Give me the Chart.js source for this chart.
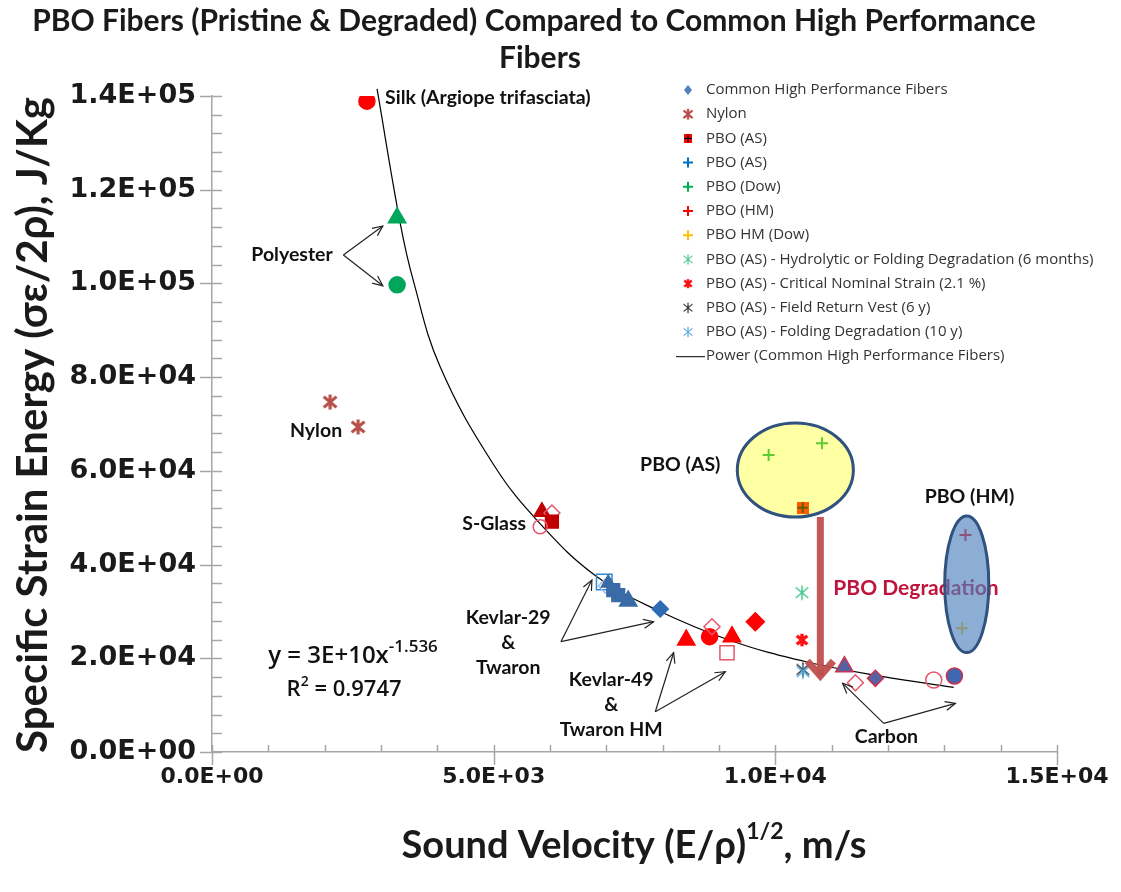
<!DOCTYPE html>
<html>
<head>
<meta charset="utf-8">
<script src="https://cdn.jsdelivr.net/npm/chart.js@4.4.0/dist/chart.umd.min.js"></script>
<style>
  html, body { margin: 0; background: #fff; }
  #wrap { width: 1121px; height: 892px; position: relative; }
</style>
</head>
<body>
<div id="wrap"><canvas id="chart"></canvas></div>
<script>
// === values ===

// Common High Performance Fibers (silk, polyester, S-glass, Kevlar/Twaron, carbon)
const commonX = [2750, 3286, 3286, 5856, 6034, 6034, 5826, 6963, 6980, 7034, 7123, 7211, 7389, 7957,
                 8419, 8833, 8875, 9230, 9142, 9645, 11226, 11421, 11776, 12812, 13179];
const commonY = [138900, 114000, 99700, 51270, 51000, 49150, 48080, 36280, 35420, 36060, 34570, 33500, 32220, 30520,
                 23900, 24610, 26740, 24610, 21190, 27810, 18210, 14790, 15720, 15360, 16220];

const nylonX = [2096, 2593];
const nylonY = [74690, 69360];

const pboAsX = [10485];
const pboAsY = [52140];
const pboAsBlueX = [10485];   // hidden under the boxed PBO (AS) marker
const pboAsBlueY = [52140];
const pboDowX = [9881, 10829];
const pboDowY = [63380, 65880];
const pboHmX = [13375];
const pboHmY = [46310];
const pboHmDowX = [13316];
const pboHmDowY = [26400];

const hydroX = [10474];
const hydroY = [34000];
const criticalX = [10474];
const criticalY = [23900];
const vestX = [10490];
const vestY = [17600];
const foldX = [10492];
const foldY = [17140];

// power trendline
const trendX = [2930, 3339, 3576, 4050, 5000, 5826, 6833, 7899, 9201, 10563, 11865, 13167];
const trendY = [141500, 113000, 100500, 82200, 61300, 48700, 37400, 30300, 23800, 19200, 16200, 13800];

const xMin = 0, xMax = 15000, xStep = 5000;
const yMin = 0, yMax = 140000, yStep = 20000;

const titleLines = ["PBO Fibers (Pristine & Degraded) Compared to Common High Performance", "Fibers"];

// === marker styling ===

const red = "#ff0000";
const dred = "#c00000";
const ored = "#e5566c";
const blu = "#3b6ba6";
const lblu = "#2f8ad0";
const carbF = "#5663a2";
const carbB = "#d0304e";
const green = "#00a65a";
const none = "rgba(255,255,255,0)";

// [pointStyle, fill, stroke, radius] for each common-fiber point
const commonStyle = [
  ["circle", red, red, 8],
  ["triangle", green, green, 10],
  ["circle", green, green, 8],
  ["triangle", dred, dred, 9],
  ["rectRot", none, ored, 8],
  ["rect", dred, dred, 9],
  ["circle", none, ored, 7],
  ["rect", none, lblu, 11],
  ["rectRot", none, "#9cc2e6", 7],
  ["triangle", blu, blu, 8],
  ["rect", blu, blu, 9],
  ["rect", blu, blu, 9],
  ["triangle", blu, blu, 10],
  ["rectRot", "#2e6db4", "#2e6db4", 8],
  ["triangle", red, red, 10],
  ["circle", red, red, 8],
  ["rectRot", none, ored, 8],
  ["triangle", red, red, 10],
  ["rect", none, ored, 10],
  ["rectRot", red, red, 9],
  ["triangle", carbF, carbB, 10],
  ["rectRot", none, ored, 8],
  ["rectRot", carbF, carbB, 8],
  ["circle", none, ored, 8],
  ["circle", "#4068b0", carbB, 8],
];

function starImg(color, size, lw) {
  const c = document.createElement("canvas");
  c.width = c.height = size;
  const g = c.getContext("2d");
  const m = lw / 2 + 1;
  g.strokeStyle = color;
  g.lineWidth = lw;
  g.lineCap = "butt";
  g.beginPath();
  g.moveTo(size / 2, m - 1); g.lineTo(size / 2, size - m + 1);
  g.moveTo(m, m + 1); g.lineTo(size - m, size - m - 1);
  g.moveTo(size - m, m + 1); g.lineTo(m, size - m - 1);
  g.stroke();
  return c;
}

function plusBoxImg(fill, line, size) {
  const c = document.createElement("canvas");
  c.width = c.height = size;
  const g = c.getContext("2d");
  g.fillStyle = fill;
  g.fillRect(0, 0, size, size);
  g.strokeStyle = line;
  g.lineWidth = 2;
  g.beginPath();
  g.moveTo(size / 2, 1); g.lineTo(size / 2, size - 1);
  g.moveTo(1, size / 2); g.lineTo(size - 1, size / 2);
  g.stroke();
  return c;
}

const imgNylon = starImg("#b8504a", 18, 3.2);
const imgHydro = starImg("#3cc68a", 16, 1.4);
const imgCritical = starImg("#ff1010", 16, 3.4);
const imgVest = starImg("#202020", 16, 1.4);
const imgFold = starImg("#4aa6dc", 16, 1.4);
const imgPboAs = plusBoxImg(red, "#000", 12);

// === helpers ===

function sci(v) {
  if (v === 0) return "0.0E+00";
  const e = Math.floor(Math.log10(v) + 1e-9);
  return (v / Math.pow(10, e)).toFixed(1) + "E+" + String(e).padStart(2, "0");
}

function pts(xs, ys) {
  return xs.map((x, i) => ({ x, y: ys[i] }));
}

function plusSet(label, xs, ys, color) {
  return {
    label, data: pts(xs, ys), pointStyle: "cross", pointRadius: 6,
    borderColor: color, backgroundColor: color, pointBorderWidth: 2, showLine: false,
  };
}

function imgSet(label, xs, ys, img) {
  return { label, data: pts(xs, ys), pointStyle: img, pointRadius: 7, showLine: false };
}

// === annotations (placed in data units) ===

const notes = [
  ["Silk (Argiope trifasciata)", 3073, 139560, "left"],
  ["Polyester", 1421, 106060, "center"],
  ["Nylon", 1847, 68500, "center"],
  ["S-Glass", 5009, 48660, "center"],
  ["Kevlar-29", 5258, 28600, "center"],
  ["&", 5258, 23260, "center"],
  ["Twaron", 5258, 17930, "center"],
  ["Kevlar-49", 7087, 15370, "center"],
  ["&", 7087, 10030, "center"],
  ["Twaron HM", 7087, 4690, "center"],
  ["Carbon", 11972, 3200, "center"],
  ["PBO (AS)", 8313, 61250, "center"],
  ["PBO (HM)", 13446, 54420, "center"],
];

// [vertex, tip, tip]
const pointers = [
  [[2332, 106060], [3032, 112250], [3032, 99510]],
  [[6194, 23540], [6744, 36710], [7838, 27810]],
  [[7869, 8600], [8194, 21190], [9112, 17140]],
  [[11924, 6120], [11195, 14660], [13197, 10390]],
];

const ellipses = [
  { cx: 10355, cy: 60180, rx: 1030, ry: 10030, fill: "rgba(255,255,0,0.36)" },
  { cx: 13398, cy: 35790, rx: 391, ry: 14580, fill: "rgba(79,129,189,0.65)" },
];

const degradeArrow = { x: 10799, y0: 50150, y1: 15360 };

const legendRows = [
  ["Common High Performance Fibers", "diamond", "#4f81bd"],
  ["Nylon", imgNylon],
  ["PBO (AS)", imgPboAs],
  ["PBO (AS)", "cross", "#0070c0"],
  ["PBO (Dow)", "cross", "#00b050"],
  ["PBO (HM)", "cross", "#ff0000"],
  ["PBO HM (Dow)", "cross", "#ffc000"],
  ["PBO (AS) - Hydrolytic or Folding Degradation (6 months)", imgHydro],
  ["PBO (AS) - Critical Nominal Strain (2.1 %)", imgCritical],
  ["PBO (AS) - Field Return Vest (6 y)", imgVest],
  ["PBO (AS) - Folding Degradation (10 y)", imgFold],
  ["Power (Common High Performance Fibers)", "line", "#000"],
];

function arrowHead(ctx, fx, fy, tx, ty, len, spread) {
  const a = Math.atan2(ty - fy, tx - fx);
  ctx.beginPath();
  ctx.moveTo(tx - len * Math.cos(a - spread), ty - len * Math.sin(a - spread));
  ctx.lineTo(tx, ty);
  ctx.lineTo(tx - len * Math.cos(a + spread), ty - len * Math.sin(a + spread));
  ctx.stroke();
}

function richText(ctx, parts, x, y, align) {
  // parts: [text, font, raise]
  let w = 0;
  parts.forEach(p => { ctx.font = p[1]; w += ctx.measureText(p[0]).width; });
  let cx = align === "center" ? x - w / 2 : x;
  ctx.textAlign = "left";
  parts.forEach(p => {
    ctx.font = p[1];
    ctx.fillText(p[0], cx, y - (p[2] || 0));
    cx += ctx.measureText(p[0]).width;
  });
}

const deco = {
  id: "deco",
  afterDatasetsDraw(chart) {
    const { ctx, chartArea: area, scales: { x, y } } = chart;
    const px = v => x.getPixelForValue(v);
    const py = v => y.getPixelForValue(v);
    ctx.save();

    // degradation arrow
    const ax = px(degradeArrow.x), ay0 = py(degradeArrow.y0), ay1 = py(degradeArrow.y1);
    ctx.strokeStyle = "rgba(192,80,77,0.95)";
    ctx.lineWidth = 7;
    ctx.lineJoin = "miter";
    ctx.beginPath();
    ctx.moveTo(ax, ay0);
    ctx.lineTo(ax, ay1 - 4);
    ctx.stroke();
    ctx.beginPath();
    ctx.moveTo(ax - 13, ay1 - 19);
    ctx.lineTo(ax, ay1 - 4);
    ctx.lineTo(ax + 13, ay1 - 19);
    ctx.stroke();

    ctx.fillStyle = "#c0143c";
    ctx.font = "700 21px Lato";
    ctx.textAlign = "left";
    ctx.textBaseline = "middle";
    ctx.fillText("PBO Degradation", px(11030), py(35000));

    // ellipses
    ellipses.forEach(e => {
      const cx = px(e.cx), cy = py(e.cy);
      const rx = Math.abs(px(e.cx + e.rx) - cx), ry = Math.abs(py(e.cy + e.ry) - cy);
      ctx.beginPath();
      ctx.ellipse(cx, cy, rx, ry, 0, 0, Math.PI * 2);
      ctx.fillStyle = e.fill;
      ctx.fill();
      ctx.lineWidth = 3;
      ctx.strokeStyle = "#30527e";
      ctx.stroke();
    });

    // labels
    ctx.fillStyle = "#111";
    ctx.font = "700 19.5px Lato";
    notes.forEach(n => {
      ctx.textAlign = n[3];
      ctx.fillText(n[0], px(n[1]), py(n[2]));
    });

    // pointer arrows
    ctx.strokeStyle = "#222";
    ctx.lineWidth = 1.2;
    ctx.lineJoin = "miter";
    pointers.forEach(p => {
      const vx = px(p[0][0]), vy = py(p[0][1]);
      [p[1], p[2]].forEach(t => {
        const tx = px(t[0]), ty = py(t[1]);
        ctx.beginPath();
        ctx.moveTo(vx, vy);
        ctx.lineTo(tx, ty);
        ctx.stroke();
        arrowHead(ctx, vx, vy, tx, ty, 11, 0.42);
      });
    });

    // trendline equation
    ctx.fillStyle = "#111";
    ctx.textBaseline = "middle";
    richText(ctx, [["y = 3E+10x", "600 24px 'Open Sans'"], ["-1.536", "600 17px 'Open Sans'", 9]], px(2504), py(20490), "center");
    richText(ctx, [["R", "600 22px 'Open Sans'"], ["2", "600 14px 'Open Sans'", 8], [" = 0.9747", "600 22px 'Open Sans'"]], px(2345), py(13230), "center");

    // axis tick marks (major cross the axis, minor inside)
    ctx.strokeStyle = "#a6a6a6";
    ctx.lineWidth = 1.5;
    ctx.beginPath();
    for (let v = yMin; v <= yMax + 1; v += yStep / 5) {
      const yy = Math.round(py(v)) + 0.5;
      const major = Math.abs(v % yStep) < 1;
      ctx.moveTo(area.left - (major ? 12 : 0), yy);
      ctx.lineTo(area.left + 10, yy);
    }
    for (let v = xMin; v <= xMax + 1; v += xStep / 5) {
      const xx = Math.round(px(v)) + 0.5;
      const major = Math.abs(v % xStep) < 1;
      ctx.moveTo(xx, area.bottom - 7);
      ctx.lineTo(xx, area.bottom + (major ? 13 : 0));
    }
    ctx.stroke();
    ctx.restore();
  },
  afterDraw(chart) {
    const { ctx } = chart;
    ctx.save();

    // title
    ctx.fillStyle = "#1a1a1a";
    ctx.textAlign = "center";
    ctx.textBaseline = "middle";
    ctx.font = "700 30px Lato";
    ctx.fillText(titleLines[0], 534, 21);
    ctx.fillText(titleLines[1], 540, 58);

    // y axis title
    ctx.save();
    ctx.translate(33, 425);
    ctx.rotate(-Math.PI / 2);
    ctx.font = "700 42px Lato";
    ctx.fillText("Specific Strain Energy (\u03c3\u03b5/2\u03c1), J/Kg", 0, 0);
    ctx.restore();

    // x axis title with superscript
    richText(ctx, [["Sound Velocity (E/\u03c1)", "700 38px Lato"], ["1/2", "700 23px Lato", 14], [", m/s", "700 38px Lato"]], 634, 846, "center");

    // legend
    const lx = 688, tx = 706, ly0 = 90, dy = 24.2;
    ctx.textAlign = "left";
    ctx.font = "400 15px 'Open Sans'";
    legendRows.forEach((r, i) => {
      const yy = ly0 + i * dy;
      const m = r[1];
      if (m instanceof HTMLCanvasElement) {
        const s = 0.72;
        ctx.drawImage(m, lx - m.width * s / 2, yy - m.height * s / 2, m.width * s, m.height * s);
      } else if (m === "diamond") {
        ctx.fillStyle = r[2];
        ctx.beginPath();
        ctx.moveTo(lx, yy - 5); ctx.lineTo(lx + 4, yy); ctx.lineTo(lx, yy + 5); ctx.lineTo(lx - 4, yy);
        ctx.closePath();
        ctx.fill();
      } else if (m === "cross") {
        ctx.strokeStyle = r[2];
        ctx.lineWidth = 2;
        ctx.beginPath();
        ctx.moveTo(lx - 5, yy); ctx.lineTo(lx + 5, yy);
        ctx.moveTo(lx, yy - 5); ctx.lineTo(lx, yy + 5);
        ctx.stroke();
      } else if (m === "line") {
        ctx.strokeStyle = r[2];
        ctx.lineWidth = 1;
        ctx.beginPath();
        ctx.moveTo(lx - 12, yy + 0.5); ctx.lineTo(tx - 1, yy + 0.5);
        ctx.stroke();
      }
      ctx.fillStyle = "#333";
      ctx.fillText(r[0], tx, yy);
    });
    ctx.restore();
  },
};

// === chart ===

new Chart(document.getElementById("chart"), {
  type: "scatter",
  data: {
    datasets: [
      imgSet("PBO (AS) - Folding Degradation (10 y)", foldX, foldY, imgFold),
      imgSet("PBO (AS) - Field Return Vest (6 y)", vestX, vestY, imgVest),
      imgSet("PBO (AS) - Critical Nominal Strain (2.1 %)", criticalX, criticalY, imgCritical),
      imgSet("PBO (AS) - Hydrolytic or Folding Degradation (6 months)", hydroX, hydroY, imgHydro),
      plusSet("PBO HM (Dow)", pboHmDowX, pboHmDowY, "#ffc000"),
      plusSet("PBO (HM)", pboHmX, pboHmY, "#ff0000"),
      plusSet("PBO (Dow)", pboDowX, pboDowY, "#00b050"),
      imgSet("PBO (AS)", pboAsX, pboAsY, imgPboAs),
      plusSet("PBO (AS)", pboAsBlueX, pboAsBlueY, "#0070c0"),
      imgSet("Nylon", nylonX, nylonY, imgNylon),
      {
        label: "Common High Performance Fibers",
        data: pts(commonX, commonY),
        pointStyle: commonStyle.map(s => s[0]),
        backgroundColor: commonStyle.map(s => s[1]),
        borderColor: commonStyle.map(s => s[2]),
        pointRadius: commonStyle.map(s => s[3]),
        pointBorderWidth: 1.5,
        showLine: false,
      },
      {
        label: "Power (Common High Performance Fibers)",
        data: pts(trendX, trendY),
        showLine: true,
        pointRadius: 0,
        borderColor: "#000",
        borderWidth: 1.2,
        tension: 0.4,
        clip: { left: 0, right: 0, top: 8, bottom: 0 },
      },
    ],
  },
  options: {
    responsive: true,
    maintainAspectRatio: false,
    animation: false,
    events: [],
    layout: { padding: { top: 96, right: 64, left: 0, bottom: 0 } },
    plugins: { legend: { display: false }, tooltip: { enabled: false }, title: { display: false } },
    scales: {
      x: {
        type: "linear",
        min: xMin,
        max: xMax,
        afterFit: s => { s.height = 140; },
        grid: { display: false, drawTicks: false },
        border: { display: true, color: "#a6a6a6", width: 1.5 },
        ticks: { stepSize: xStep, padding: 12, color: "#1a1a1a", font: { family: "'DejaVu Sans'", size: 22, weight: "700" }, callback: v => sci(v), maxRotation: 0 },
      },
      y: {
        type: "linear",
        min: yMin,
        max: yMax,
        afterFit: s => { s.width = 212; },
        grid: { display: false, drawTicks: false },
        border: { display: true, color: "#a6a6a6", width: 1.5 },
        ticks: { stepSize: yStep, padding: 16, color: "#1a1a1a", font: { family: "'DejaVu Sans'", size: 27, weight: "700" }, callback: v => sci(v) },
      },
    },
  },
  plugins: [deco],
});
</script>
</body>
</html>
